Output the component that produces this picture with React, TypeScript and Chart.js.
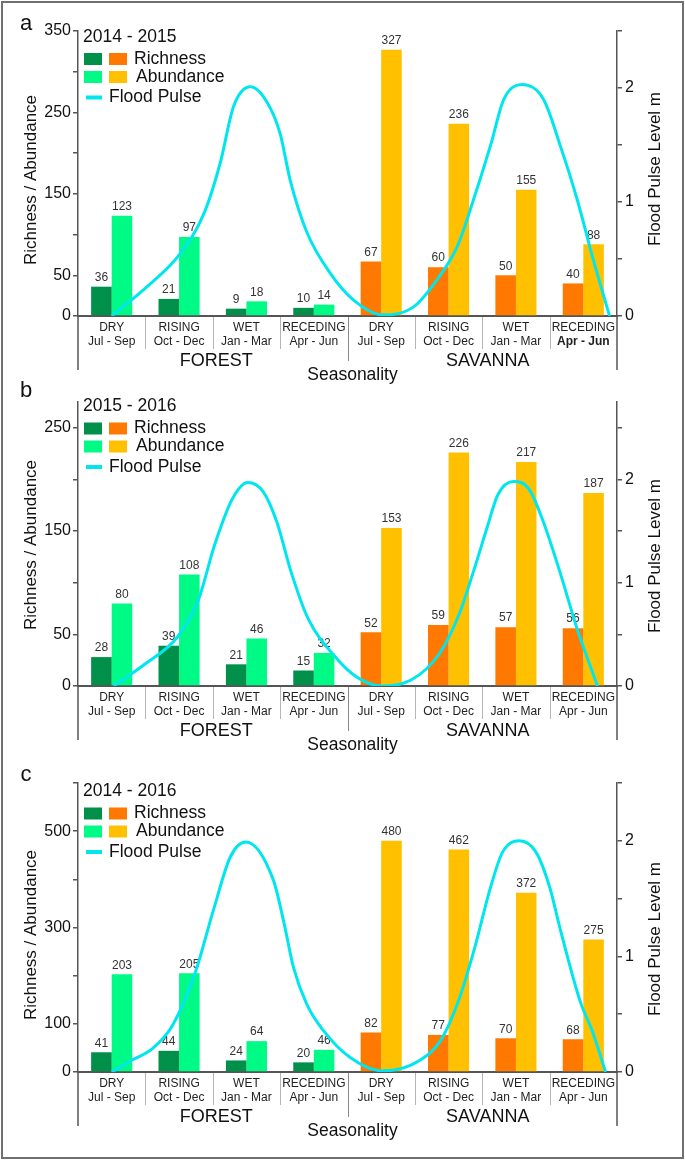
import React, { useEffect, useRef } from 'react';
import { Chart, registerables } from 'chart.js';

Chart.register(...registerables);

const FONT = '"Liberation Sans", Arial, Helvetica, sans-serif';
Chart.defaults.font.family = FONT;
Chart.defaults.color = '#111';

// ---------- data ----------
const seasons = ['DRY', 'RISING', 'WET', 'RECEDING', 'DRY', 'RISING', 'WET', 'RECEDING'];
const months = ['Jul - Sep', 'Oct - Dec', 'Jan - Mar', 'Apr - Jun', 'Jul - Sep', 'Oct - Dec', 'Jan - Mar', 'Apr - Jun'];
const habitats = ['FOREST', 'SAVANNA'];
const xAxisTitle = 'Seasonality';
const leftAxisTitle = 'Richness / Abundance';
const rightAxisTitle = 'Flood Pulse Level m';
const legendLabels = ['Richness', 'Abundance', 'Flood Pulse'];

const richness2014_2015 = [36, 21, 9, 10, 67, 60, 50, 40];
const abundance2014_2015 = [123, 97, 18, 14, 327, 236, 155, 88];
const richness2015_2016 = [28, 39, 21, 15, 52, 59, 57, 56];
const abundance2015_2016 = [80, 108, 46, 32, 153, 226, 217, 187];
const richness2014_2016 = [41, 44, 24, 20, 82, 77, 70, 68];
const abundance2014_2016 = [203, 205, 64, 46, 480, 462, 372, 275];

// flood pulse curve: position in category units (category i spans i..i+1), level in m
const floodPos2014_2015 = [0.5, 1.03, 1.52, 1.87, 2.11, 2.31, 2.56, 2.81, 3.0, 3.15, 3.4, 3.75, 4.09, 4.52, 4.98, 5.33, 5.63, 5.87, 6.12, 6.32, 6.59, 6.91, 7.16, 7.41, 7.65, 7.89];
const floodLevel2014_2015 = [0, 0.26, 0.55, 0.9, 1.34, 1.84, 2.01, 1.87, 1.6, 1.19, 0.73, 0.37, 0.14, 0.01, 0.08, 0.32, 0.61, 1.02, 1.49, 1.9, 2.03, 1.9, 1.49, 1.02, 0.49, 0];
const floodPos2015_2016 = [0.53, 1.01, 1.47, 1.78, 2.03, 2.29, 2.52, 2.75, 2.95, 3.16, 3.41, 3.82, 4.13, 4.51, 4.95, 5.36, 5.66, 5.87, 6.07, 6.23, 6.46, 6.69, 6.89, 7.15, 7.4, 7.71];
const floodLevel2015_2016 = [0, 0.22, 0.47, 0.82, 1.37, 1.81, 1.97, 1.88, 1.59, 1.11, 0.66, 0.28, 0.09, 0, 0.06, 0.31, 0.7, 1.11, 1.53, 1.85, 1.98, 1.91, 1.62, 1.11, 0.57, 0];
const floodPos2014_2016 = [0.5, 0.79, 1.1, 1.4, 1.74, 2.01, 2.26, 2.49, 2.9, 3.05, 3.2, 3.4, 3.64, 4.03, 4.52, 5.07, 5.39, 5.65, 5.9, 6.1, 6.3, 6.55, 6.8, 7.0, 7.16, 7.46, 7.63, 7.83];
const floodLevel2014_2016 = [0, 0.1, 0.2, 0.4, 0.86, 1.4, 1.86, 1.99, 1.66, 1.31, 0.9, 0.58, 0.36, 0.13, 0.01, 0.1, 0.28, 0.62, 1.1, 1.55, 1.9, 2.0, 1.9, 1.6, 1.23, 0.6, 0.36, 0];

// ---------- styles ----------
const FOREST_RICH = '#00904a';
const FOREST_ABUND = '#00fa86';
const SAVANNA_RICH = '#ff7800';
const SAVANNA_ABUND = '#ffc000';
const CYAN = '#00e6ee';
const AXIS = '#555555';

const panels = [
  {
    letter: 'a', period: '2014 - 2015',
    richness: richness2014_2015, abundance: abundance2014_2015,
    floodPos: floodPos2014_2015, floodLevel: floodLevel2014_2015,
    yMax: 350, yStep: 50, y2Max: 2.5, boldLastMonth: true,
    top: 0, height: 392, areaTop: 31, areaBottom: 316,
    letterY: 24, legendY: 37, leftTitleY: 180, rightTitleY: 169,
  },
  {
    letter: 'b', period: '2015 - 2016',
    richness: richness2015_2016, abundance: abundance2015_2016,
    floodPos: floodPos2015_2016, floodLevel: floodLevel2015_2016,
    yMax: 275, yStep: 50, y2Max: 2.75, boldLastMonth: false,
    top: 376, height: 392, areaTop: 402, areaBottom: 686,
    letterY: 391, legendY: 406.5, leftTitleY: 545, rightTitleY: 556,
  },
  {
    letter: 'c', period: '2014 - 2016',
    richness: richness2014_2016, abundance: abundance2014_2016,
    floodPos: floodPos2014_2016, floodLevel: floodLevel2014_2016,
    yMax: 600, yStep: 100, y2Max: 2.5, boldLastMonth: false,
    top: 752, height: 409, areaTop: 783, areaBottom: 1072,
    letterY: 775, legendY: 791.5, leftTitleY: 935, rightTitleY: 939,
  },
];

// category i is centred at i + 0.5 on the linear season axis
const catCenter = (i: number) => i + 0.5;

function makeDecor(p: any) {
  return {
    id: 'decor' + p.letter,
    afterDatasetDraw(chart: any, args: any) {
      if (args.index > 1) return;
      const ctx = chart.ctx;
      const values = args.index === 0 ? p.richness : p.abundance;
      ctx.save();
      ctx.font = `12px ${FONT}`;
      ctx.fillStyle = '#333';
      ctx.textAlign = 'center';
      ctx.textBaseline = 'bottom';
      args.meta.data.forEach((el: any, i: number) => {
        ctx.fillText(String(values[i]), el.x, el.y - 3);
      });
      ctx.restore();
    },
    afterDraw(chart: any) {
      const ctx = chart.ctx;
      const { left, right, bottom } = chart.chartArea;
      const xs = chart.scales.x;
      const loc = (y: number) => y - p.top;
      ctx.save();

      // extended axis lines below baseline
      ctx.strokeStyle = AXIS;
      ctx.lineWidth = 1.5;
      ctx.beginPath();
      ctx.moveTo(left, bottom);
      ctx.lineTo(left, bottom + 54);
      ctx.moveTo(right, bottom);
      ctx.lineTo(right, bottom + 54);
      ctx.stroke();

      // category dividers
      let mid = 0;
      for (let i = 1; i < 8; i++) {
        const x = Math.round(xs.getPixelForValue(i)) + 0.5;
        ctx.beginPath();
        ctx.lineWidth = 1;
        if (i === 4) {
          mid = x;
          ctx.strokeStyle = '#888';
          ctx.moveTo(x, bottom + 1);
          ctx.lineTo(x, bottom + 45);
        } else {
          ctx.strokeStyle = '#b5b5b5';
          ctx.moveTo(x, bottom + 1);
          ctx.lineTo(x, bottom + 33);
        }
        ctx.stroke();
      }

      // category labels
      ctx.fillStyle = '#222';
      ctx.textAlign = 'center';
      ctx.textBaseline = 'middle';
      for (let i = 0; i < 8; i++) {
        const x = xs.getPixelForValue(catCenter(i));
        ctx.font = `12px ${FONT}`;
        ctx.fillText(seasons[i], x, bottom + 11.5);
        ctx.font = (p.boldLastMonth && i === 7 ? 'bold ' : '') + `12px ${FONT}`;
        ctx.fillText(months[i], x, bottom + 26);
      }

      // habitat labels
      ctx.font = `18px ${FONT}`;
      ctx.fillStyle = '#111';
      ctx.fillText(habitats[0], (left + mid) / 2 + 3, bottom + 45);
      ctx.fillText(habitats[1], (mid + right) / 2 + 5, bottom + 45);
      ctx.font = `17.5px ${FONT}`;
      ctx.fillText(xAxisTitle, (left + right) / 2 + 5, bottom + 59);

      // axis titles
      ctx.font = `17px ${FONT}`;
      ctx.textBaseline = 'alphabetic';
      ctx.save();
      ctx.translate(35.5, loc(p.leftTitleY));
      ctx.rotate(-Math.PI / 2);
      ctx.fillText(leftAxisTitle, 0, 0);
      ctx.restore();
      ctx.save();
      ctx.translate(660, loc(p.rightTitleY));
      ctx.rotate(-Math.PI / 2);
      ctx.fillText(rightAxisTitle, 0, 0);
      ctx.restore();

      // panel letter
      ctx.font = `22px ${FONT}`;
      ctx.textBaseline = 'middle';
      ctx.textAlign = 'center';
      ctx.fillText(p.letter, 26, loc(p.letterY));

      // legend
      const ly = loc(p.legendY);
      ctx.textAlign = 'left';
      ctx.font = `17.5px ${FONT}`;
      ctx.fillStyle = '#111';
      ctx.fillText(p.period, 83, ly);
      const r1 = ly + 22, r2 = ly + 40, r3 = ly + 60.5;
      ctx.fillStyle = FOREST_RICH; ctx.fillRect(84, r1 - 6, 18, 12);
      ctx.fillStyle = SAVANNA_RICH; ctx.fillRect(109, r1 - 6, 18, 12);
      ctx.fillStyle = FOREST_ABUND; ctx.fillRect(84, r2 - 6, 18, 12);
      ctx.fillStyle = SAVANNA_ABUND; ctx.fillRect(109, r2 - 6, 18, 12);
      ctx.fillStyle = '#111';
      ctx.fillText(legendLabels[0], 134, r1);
      ctx.fillText(legendLabels[1], 136, r2);
      ctx.strokeStyle = CYAN;
      ctx.lineWidth = 4;
      ctx.beginPath();
      ctx.moveTo(86, r3);
      ctx.lineTo(102, r3);
      ctx.stroke();
      ctx.fillText(legendLabels[2], 109, r3);

      ctx.restore();
    },
  };
}

function PanelChart({ p }: { p: any }) {
  const ref = useRef<HTMLCanvasElement>(null);
  useEffect(() => {
    const canvas = ref.current;
    if (!canvas) return;
    const chart = new Chart(canvas, {
      type: 'bar',
      data: {
        datasets: [
          {
            type: 'bar',
            label: legendLabels[0],
            data: p.richness.map((v: number, i: number) => ({ x: catCenter(i), y: v })),
            backgroundColor: p.richness.map((_: number, i: number) => (i < 4 ? FOREST_RICH : SAVANNA_RICH)),
            xAxisID: 'x', yAxisID: 'y', order: 1,
            categoryPercentage: 0.61, barPercentage: 1, borderWidth: 0,
          },
          {
            type: 'bar',
            label: legendLabels[1],
            data: p.abundance.map((v: number, i: number) => ({ x: catCenter(i), y: v })),
            backgroundColor: p.abundance.map((_: number, i: number) => (i < 4 ? FOREST_ABUND : SAVANNA_ABUND)),
            xAxisID: 'x', yAxisID: 'y', order: 1,
            categoryPercentage: 0.61, barPercentage: 1, borderWidth: 0,
          },
          {
            type: 'line',
            label: legendLabels[2],
            data: p.floodPos.map((x: number, i: number) => ({ x, y: p.floodLevel[i] })),
            xAxisID: 'x', yAxisID: 'y2', order: 0,
            borderColor: CYAN, borderWidth: 3, pointRadius: 0, fill: false,
            cubicInterpolationMode: 'monotone',
          },
        ] as any,
      },
      options: {
        responsive: false,
        animation: false,
        events: [],
        layout: { padding: { top: p.areaTop - p.top, left: 0, right: 0, bottom: 0 } },
        plugins: { legend: { display: false }, tooltip: { enabled: false } },
        scales: {
          x: {
            type: 'linear', position: 'bottom', offset: false, min: 0, max: 8,
            grid: { display: false, offset: false },
            ticks: { display: false, stepSize: 1 },
            border: { display: true, color: AXIS, width: 2 },
            afterFit: (s: any) => { s.height = p.top + p.height - p.areaBottom; },
          },
          y: {
            type: 'linear', position: 'left', min: 0, max: p.yMax,
            ticks: {
              stepSize: p.yStep, includeBounds: false, autoSkip: false,
              callback: (v: any) => (v === 0 || Math.round(v / p.yStep) % 2 === 1 ? String(v) : ''),
              font: { size: 16 }, color: '#111', padding: 2,
            },
            grid: { drawOnChartArea: false, drawTicks: true, tickLength: 5, color: AXIS, lineWidth: 1.5 },
            border: { color: AXIS, width: 1.5 },
            afterFit: (s: any) => { s.width = 78; },
          },
          y2: {
            type: 'linear', position: 'right', min: 0, max: p.y2Max,
            ticks: {
              stepSize: 0.5, includeBounds: false, autoSkip: false,
              callback: (v: any) => (Math.abs(v - Math.round(v)) < 1e-6 ? String(Math.round(v)) : ''),
              font: { size: 16 }, color: '#111', padding: 3,
            },
            grid: { drawOnChartArea: false, drawTicks: true, tickLength: 5, color: AXIS, lineWidth: 1.5 },
            border: { color: AXIS, width: 1.5 },
            afterFit: (s: any) => { s.width = 68; },
          },
        },
      } as any,
      plugins: [makeDecor(p)],
    });
    return () => chart.destroy();
  }, [p]);
  return (
    <canvas
      ref={ref}
      width={685}
      height={p.height}
      style={{ position: 'absolute', left: 0, top: p.top, width: 685, height: p.height }}
    />
  );
}

export default function App() {
  return (
    <div style={{ position: 'absolute', left: 0, top: 0, width: 685, height: 1161, background: '#fff', overflow: 'hidden' }}>
      {panels.map((p) => (
        <PanelChart key={p.letter} p={p} />
      ))}
      <div
        style={{
          position: 'absolute', left: 1, top: 1, width: 683, height: 1158,
          border: '2px solid #707070', boxSizing: 'border-box', pointerEvents: 'none',
        }}
      />
    </div>
  );
}
